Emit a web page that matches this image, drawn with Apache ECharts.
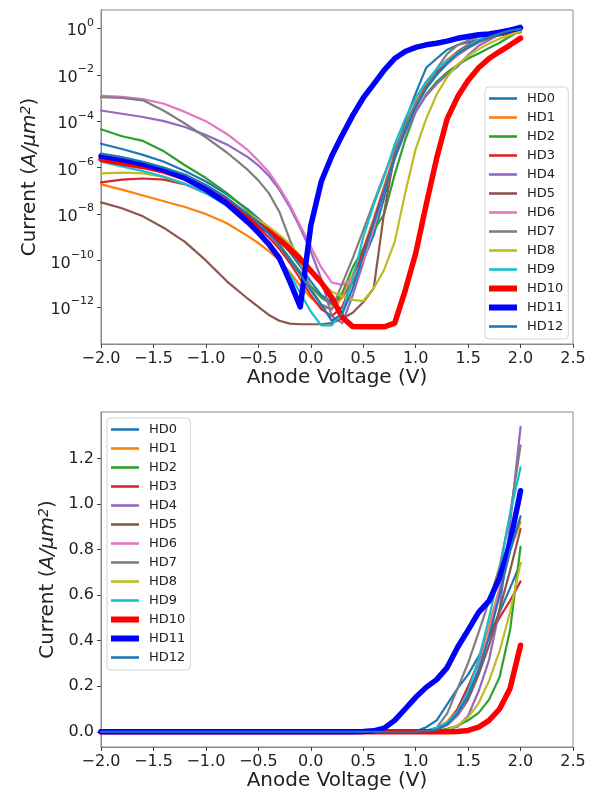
<!DOCTYPE html>
<html><head><meta charset="utf-8">
<script src="https://cdn.jsdelivr.net/npm/echarts@6/dist/echarts.min.js"></script>
<style>html,body{margin:0;padding:0;background:#fff}#c{width:596px;height:793px}</style>
</head><body><div id="c"></div><script>
// Anode voltage (V)
const voltage = [-2.0,-1.8,-1.6,-1.4,-1.2,-1.0,-0.8,-0.6,-0.5,-0.4,-0.3,-0.2,-0.1,0.0,0.1,0.2,0.3,0.4,0.5,0.6,0.7,0.8,0.9,1.0,1.1,1.2,1.3,1.4,1.5,1.6,1.7,1.8,1.9,2.0];
// Current (A/um^2) (written as powers of ten)
const HD0 = [10**-4.97,10**-5.2,10**-5.45,10**-5.75,10**-6.15,10**-6.6,10**-7.15,10**-7.8,10**-8.2,10**-8.6,10**-9.1,10**-9.65,10**-10.25,10**-10.9,10**-11.5,10**-11.8,10**-11.6,10**-10.9,10**-10.0,10**-8.9,10**-7.3,10**-5.6,10**-4.0,10**-2.8,10**-1.7,10**-1.3,10**-0.92,10**-0.72,10**-0.6,10**-0.48,10**-0.38,10**-0.28,10**-0.2,10**-0.13];
const HD1 = [10**-6.72,10**-6.95,10**-7.2,10**-7.45,10**-7.7,10**-8.0,10**-8.4,10**-8.95,10**-9.25,10**-9.6,10**-10.0,10**-10.5,10**-11.1,10**-11.6,10**-12.0,10**-12.1,10**-11.6,10**-10.6,10**-9.5,10**-8.2,10**-6.8,10**-5.4,10**-4.2,10**-3.2,10**-2.4,10**-1.8,10**-1.35,10**-1.0,10**-0.72,10**-0.5,10**-0.33,10**-0.2,10**-0.1,10**-0.035];
const HD2 = [10**-4.35,10**-4.65,10**-4.85,10**-5.3,10**-5.9,10**-6.45,10**-7.1,10**-7.85,10**-8.3,10**-8.8,10**-9.3,10**-9.9,10**-10.5,10**-11.1,10**-11.6,10**-11.9,10**-11.4,10**-10.3,10**-9.5,10**-8.7,10**-8.0,10**-6.3,10**-4.8,10**-3.6,10**-2.85,10**-2.3,10**-1.9,10**-1.58,10**-1.3,10**-1.08,10**-0.85,10**-0.62,10**-0.35,10**-0.09];
const HD3 = [10**-6.64,10**-6.52,10**-6.47,10**-6.52,10**-6.72,10**-7.1,10**-7.6,10**-8.2,10**-8.6,10**-9.0,10**-9.5,10**-10.1,10**-10.8,10**-11.5,10**-12.1,10**-12.4,10**-12.0,10**-10.9,10**-9.6,10**-8.3,10**-6.9,10**-5.5,10**-4.3,10**-3.3,10**-2.5,10**-1.9,10**-1.52,10**-1.0,10**-0.7,10**-0.52,10**-0.38,10**-0.3,10**-0.24,10**-0.18];
const HD4 = [10**-3.54,10**-3.68,10**-3.82,10**-4.0,10**-4.25,10**-4.6,10**-5.0,10**-5.55,10**-5.9,10**-6.35,10**-6.95,10**-7.7,10**-8.6,10**-9.6,10**-10.8,10**-12.4,10**-12.7,10**-11.5,10**-10.1,10**-8.5,10**-7.0,10**-5.6,10**-4.5,10**-3.6,10**-2.9,10**-2.4,10**-2.0,10**-1.65,10**-1.15,10**-0.75,10**-0.5,10**-0.27,10**-0.04,10**0.127];
const HD5 = [10**-7.5,10**-7.75,10**-8.1,10**-8.6,10**-9.2,10**-10.0,10**-10.9,10**-11.65,10**-12.0,10**-12.35,10**-12.6,10**-12.72,10**-12.75,10**-12.75,10**-12.75,10**-12.7,10**-12.5,10**-12.25,10**-11.8,10**-11.2,10**-7.9,10**-5.4,10**-4.2,10**-3.3,10**-2.55,10**-1.95,10**-1.5,10**-1.15,10**-0.85,10**-0.6,10**-0.42,10**-0.27,10**-0.15,10**-0.05];
const HD6 = [10**-2.9,10**-2.95,10**-3.05,10**-3.25,10**-3.6,10**-4.0,10**-4.55,10**-5.25,10**-5.7,10**-6.2,10**-6.85,10**-7.6,10**-8.5,10**-9.4,10**-10.3,10**-10.95,10**-11.05,10**-10.8,10**-10.0,10**-8.6,10**-7.0,10**-5.6,10**-4.4,10**-3.4,10**-2.6,10**-2.0,10**-1.55,10**-1.15,10**-0.8,10**-0.55,10**-0.36,10**-0.2,10**-0.08,10**0.01];
const HD7 = [10**-2.97,10**-3.0,10**-3.1,10**-3.55,10**-4.1,10**-4.7,10**-5.35,10**-6.1,10**-6.55,10**-7.1,10**-7.9,10**-9.1,10**-10.2,10**-11.2,10**-11.9,10**-12.1,10**-11.0,10**-9.9,10**-8.7,10**-7.5,10**-6.3,10**-5.2,10**-4.2,10**-3.3,10**-2.55,10**-1.75,10**-1.1,10**-0.72,10**-0.52,10**-0.36,10**-0.24,10**-0.14,10**-0.02,10**0.1];
const HD8 = [10**-6.25,10**-6.22,10**-6.25,10**-6.4,10**-6.7,10**-7.05,10**-7.45,10**-7.95,10**-8.25,10**-8.55,10**-8.9,10**-9.3,10**-9.8,10**-10.35,10**-10.9,10**-11.35,10**-11.55,10**-11.7,10**-11.75,10**-11.2,10**-10.4,10**-9.2,10**-7.1,10**-5.2,10**-3.9,10**-2.85,10**-2.1,10**-1.55,10**-1.2,10**-0.9,10**-0.65,10**-0.45,10**-0.28,10**-0.13];
const HD9 = [10**-5.75,10**-5.95,10**-6.15,10**-6.4,10**-6.7,10**-7.1,10**-7.65,10**-8.4,10**-8.85,10**-9.4,10**-9.95,10**-10.6,10**-11.4,10**-12.2,10**-12.8,10**-12.8,10**-12.2,10**-10.8,10**-9.0,10**-7.6,10**-6.4,10**-5.0,10**-3.9,10**-3.0,10**-2.3,10**-1.75,10**-1.4,10**-1.05,10**-0.75,10**-0.5,10**-0.3,10**-0.15,10**-0.02,10**0.065];
const HD10 = [10**-5.64,10**-5.8,10**-5.95,10**-6.15,10**-6.45,10**-6.9,10**-7.45,10**-8.1,10**-8.45,10**-8.75,10**-9.1,10**-9.5,10**-9.95,10**-10.45,10**-10.95,10**-11.6,10**-12.45,10**-12.85,10**-12.86,10**-12.86,10**-12.86,10**-12.7,10**-11.3,10**-9.7,10**-7.6,10**-5.6,10**-3.9,10**-2.95,10**-2.25,10**-1.7,10**-1.3,10**-1.0,10**-0.72,10**-0.42];
const HD11 = [10**-5.5,10**-5.65,10**-5.85,10**-6.1,10**-6.45,10**-6.95,10**-7.55,10**-8.35,10**-8.8,10**-9.3,10**-9.9,10**-10.9,10**-12.0,10**-8.5,10**-6.6,10**-5.5,10**-4.6,10**-3.75,10**-3.0,10**-2.4,10**-1.8,10**-1.3,10**-1.0,10**-0.82,10**-0.71,10**-0.64,10**-0.55,10**-0.43,10**-0.35,10**-0.28,10**-0.24,10**-0.17,10**-0.08,10**0.025];
const HD12 = [10**-5.4,10**-5.55,10**-5.75,10**-6.0,10**-6.3,10**-6.75,10**-7.3,10**-8.0,10**-8.4,10**-8.85,10**-9.35,10**-9.95,10**-10.6,10**-11.3,10**-11.9,10**-12.6,10**-12.3,10**-11.2,10**-9.8,10**-8.4,10**-7.0,10**-5.6,10**-4.4,10**-3.4,10**-2.6,10**-2.0,10**-1.5,10**-1.1,10**-0.8,10**-0.57,10**-0.38,10**-0.22,10**-0.1,10**-0.024];

const seriesNames = ['HD0','HD1','HD2','HD3','HD4','HD5','HD6','HD7','HD8','HD9','HD10','HD11','HD12'];
const seriesValues = [HD0,HD1,HD2,HD3,HD4,HD5,HD6,HD7,HD8,HD9,HD10,HD11,HD12];
const logTickValues = [1e-12,1e-10,1e-8,1e-6,1e-4,1e-2,1];
const linTickValues = [0,0.2,0.4,0.6,0.8,1.0,1.2];

const colors = ['#1f77b4','#ff7f0e','#2ca02c','#d62728','#9467bd','#8c564b','#e377c2','#7f7f7f','#bcbd22','#17becf','#ff0000','#0000ff','#1f77b4'];
const widths = [2.2,2.2,2.2,2.2,2.2,2.2,2.2,2.2,2.2,2.2,5.5,5.5,2.2];

const FONT = 'DejaVu Sans';
const TXT = '#222';
const AX = '#8a8a8a';

function xAxisCfg(g){
  return {
    type:'value', gridIndex:g, min:-2, max:2.5, interval:0.5,
    axisLine:{show:true, onZero:false, lineStyle:{color:AX, width:1}},
    axisTick:{show:true, length:4, lineStyle:{color:'#444', width:1}},
    axisLabel:{fontSize:16, color:TXT, fontFamily:FONT, margin:7,
      formatter:v=>v.toFixed(1).replace('-','\u2212')},
    splitLine:{show:false},
    name:'Anode Voltage (V)', nameLocation:'middle', nameGap:24,
    nameTextStyle:{fontSize:20, color:TXT, fontFamily:FONT}
  };
}
const nameRich = {
  t:{fontSize:20, color:TXT, fontFamily:FONT},
  i:{fontSize:20, color:TXT, fontFamily:FONT, fontStyle:'italic'},
  s:{fontSize:14, color:TXT, fontFamily:FONT, fontStyle:'italic', verticalAlign:'top', lineHeight:14}
};
const yName = '{t|Current (}{i|A/\u03bcm}{s|2}{t|)}';

const thinIcon = 'path://M0,0h28v2.6h-28z';
const thickIcon = 'path://M0,0h28v6h-28z';
const legendData = seriesNames.map((n,i)=>({name:n, icon: widths[i] > 3 ? thickIcon : thinIcon,
  itemStyle:{color:colors[i], borderWidth:0}}));
function legendCfg(left, top){
  return {
    orient:'vertical', left:left, top:top, itemWidth:28, itemHeight:14, itemGap:6,
    padding:[5,5,6,4], borderColor:'#d4d4d4', borderWidth:1, borderRadius:4,
    backgroundColor:'rgba(255,255,255,0.8)',
    formatter:n=>'{a|'+n+'}',
    textStyle:{fontSize:13, color:TXT, fontFamily:FONT,
      rich:{a:{fontSize:13, color:TXT, fontFamily:FONT, padding:[0,0,0,5], lineHeight:14}}},
    selectedMode:false, data:legendData
  };
}

const series = [];
seriesNames.forEach((n,i)=>{
  const pts = voltage.map((v,k)=>[v, seriesValues[i][k]]);
  [0,1].forEach(g=>{
    series.push({
      name:n, type:'line', xAxisIndex:g, yAxisIndex:g, data:pts,
      symbol:'none', showSymbol:false, silent:true, animation:false,
      lineStyle:{color:colors[i], width:widths[i], join:'round', cap:'round'},
      itemStyle:{color:colors[i]},
      emphasis:{disabled:true}
    });
  });
});

const chart = echarts.init(document.getElementById('c'), null, {renderer:'canvas'});
chart.setOption({
  animation:false,
  backgroundColor:'#fff',
  textStyle:{fontFamily:FONT},
  grid:[
    {left:101, top:10, width:472, height:334, show:true, borderColor:AX, borderWidth:1, backgroundColor:'transparent'},
    {left:101, top:412, width:472, height:335, show:true, borderColor:AX, borderWidth:1, backgroundColor:'transparent'}
  ],
  xAxis:[xAxisCfg(0), xAxisCfg(1)],
  yAxis:[
    {type:'log', logBase:10, gridIndex:0, min:10**-13.6, max:10**0.79,
     axisLine:{show:true, onZero:false, lineStyle:{color:AX}},
     axisTick:{show:true, length:4, lineStyle:{color:'#444'}, customValues:logTickValues},
     axisLabel:{margin:7, color:TXT, fontFamily:FONT, customValues:logTickValues,
       formatter:v=>{const e=Math.round(Math.log10(v)); return '{b|10}{s|'+(e<0?'\u2212'+(-e):e)+'}';},
       rich:{b:{fontSize:16, color:TXT, fontFamily:FONT, lineHeight:22, verticalAlign:'bottom'},
             s:{fontSize:11, color:TXT, fontFamily:FONT, lineHeight:11, verticalAlign:'top'}}},
     splitLine:{show:false},
     name:yName, nameLocation:'middle', nameRotate:90, nameGap:60,
     nameTextStyle:{fontSize:20, color:TXT, fontFamily:FONT, rich:nameRich}},
    {type:'value', gridIndex:1, min:-0.067, max:1.405,
     axisLine:{show:true, onZero:false, lineStyle:{color:AX}},
     axisTick:{show:true, length:4, lineStyle:{color:'#444'}, customValues:linTickValues},
     axisLabel:{fontSize:16, margin:7, color:TXT, fontFamily:FONT, customValues:linTickValues,
       formatter:v=>v.toFixed(1)},
     splitLine:{show:false},
     name:yName, nameLocation:'middle', nameRotate:90, nameGap:42,
     nameTextStyle:{fontSize:20, color:TXT, fontFamily:FONT, rich:nameRich}}
  ],
  legend:[legendCfg(485,87), legendCfg(107,418)],
  series:series
});
</script></body></html>
